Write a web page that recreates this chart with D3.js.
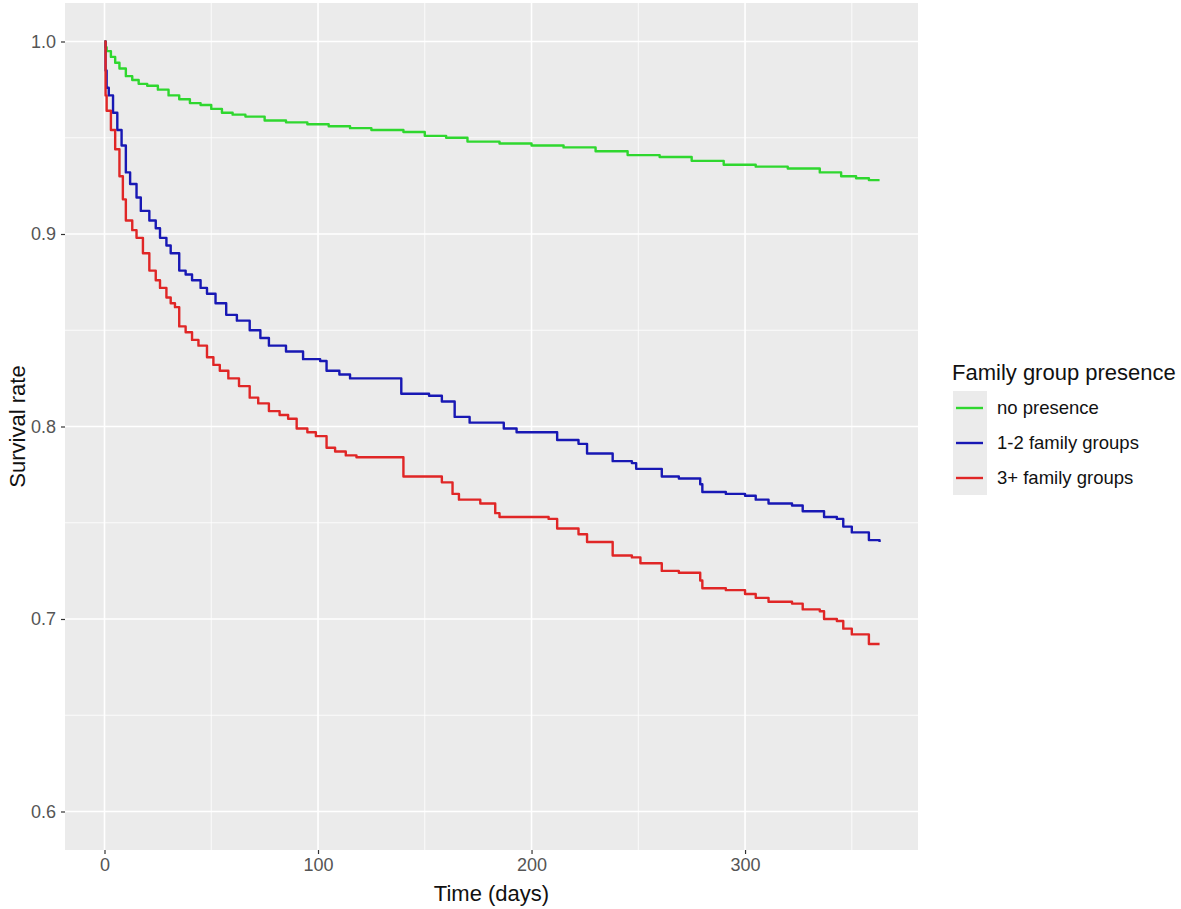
<!DOCTYPE html>
<html>
<head>
<meta charset="utf-8">
<script src="https://cdn.jsdelivr.net/npm/d3@7"></script>
<style>
    body { margin: 0; background: #fff; }
    svg { font-family: "Liberation Sans", Arial, sans-serif; }
</style>
</head>
<body>
<svg id="chart" width="1181" height="909"></svg>
<script>
// survival curves (time in days, survival rate)
const groups = ["no presence", "1-2 family groups", "3+ family groups"];
const groupColors = ["#2fd72f", "#1818b4", "#e02626"];

const timeNone = [0, 0.5, 1, 3, 5, 7, 10, 13, 16, 20, 25, 30, 35, 40, 45, 50, 55, 60, 66, 75,
    85, 95, 105, 115, 125, 140, 150, 160, 170, 185, 200, 215, 230, 245, 260, 275, 290, 305, 320, 335,
    345, 352, 358, 363];
const survNone = [1.0, 0.997, 0.995, 0.992, 0.989, 0.986, 0.982, 0.980, 0.978, 0.977, 0.975, 0.972, 0.970, 0.968, 0.967, 0.965, 0.963, 0.962, 0.961, 0.959,
    0.958, 0.957, 0.956, 0.955, 0.954, 0.953, 0.951, 0.950, 0.948, 0.947, 0.946, 0.945, 0.943, 0.941, 0.940, 0.938, 0.936, 0.935, 0.934, 0.932,
    0.930, 0.929, 0.928, 0.928];

const timeFew = [0, 0.5, 1, 2, 4, 6, 8, 10, 12, 15, 17, 21, 24, 26, 29, 31, 35, 38, 41, 45,
    48, 52, 57, 62, 68, 73, 77, 85, 93, 101, 104, 110, 115, 133, 139, 152, 158, 164, 171, 184,
    187, 193, 208, 212, 222, 226, 238, 247, 249, 257, 261, 269, 279, 280, 291, 300, 305, 311, 322, 327,
    335, 337, 343, 346, 350, 357, 358, 363];
const survFew = [1.0, 0.985, 0.976, 0.972, 0.963, 0.954, 0.946, 0.932, 0.926, 0.919, 0.912, 0.907, 0.903, 0.898, 0.894, 0.890, 0.881, 0.879, 0.876, 0.872,
    0.869, 0.864, 0.858, 0.855, 0.850, 0.846, 0.842, 0.839, 0.835, 0.834, 0.829, 0.827, 0.825, 0.825, 0.817, 0.816, 0.813, 0.805, 0.802, 0.802,
    0.799, 0.797, 0.797, 0.793, 0.791, 0.786, 0.782, 0.781, 0.778, 0.778, 0.774, 0.773, 0.770, 0.766, 0.765, 0.764, 0.762, 0.760, 0.759, 0.756,
    0.756, 0.753, 0.752, 0.748, 0.745, 0.745, 0.741, 0.740];

const timeMany = [0, 0.5, 1, 3, 5, 7, 8.6, 10, 13, 15, 18, 21, 24, 26, 29, 31, 33, 35, 38, 41,
    44, 48, 51, 54, 58, 63, 68, 72, 77, 82, 86, 90, 95, 99, 104, 108, 113, 118, 134, 140,
    152, 158, 163, 166, 176, 183, 185, 208, 212, 222, 226, 238, 247, 251, 257, 261, 269, 279, 280, 291,
    300, 305, 311, 322, 327, 335, 337, 343, 346, 350, 357, 358, 363];
const survMany = [1.0, 0.972, 0.964, 0.954, 0.944, 0.930, 0.918, 0.907, 0.902, 0.898, 0.890, 0.881, 0.876, 0.872, 0.867, 0.864, 0.862, 0.852, 0.849, 0.845,
    0.842, 0.836, 0.832, 0.829, 0.825, 0.821, 0.815, 0.812, 0.808, 0.806, 0.804, 0.799, 0.797, 0.795, 0.789, 0.787, 0.785, 0.784, 0.784, 0.774,
    0.774, 0.771, 0.765, 0.762, 0.760, 0.755, 0.753, 0.752, 0.747, 0.744, 0.740, 0.733, 0.732, 0.729, 0.729, 0.725, 0.724, 0.720, 0.716, 0.715,
    0.713, 0.711, 0.709, 0.708, 0.705, 0.704, 0.700, 0.699, 0.695, 0.692, 0.692, 0.687, 0.687];

const xTicks = [0, 100, 200, 300];
const xMinor = [50, 150, 250, 350];
const yTicks = [0.6, 0.7, 0.8, 0.9, 1.0];
const yMinor = [0.65, 0.75, 0.85, 0.95];

const series = [
    {name: groups[0], time: timeNone, surv: survNone, color: groupColors[0]},
    {name: groups[1], time: timeFew, surv: survFew, color: groupColors[1]},
    {name: groups[2], time: timeMany, surv: survMany, color: groupColors[2]},
];

const svg = d3.select("#chart");
const panel = {left: 65, right: 918, top: 3, bottom: 850}; // grey plotting area

const x = d3.scaleLinear().domain([-18.5, 381]).range([panel.left, panel.right]);
const y = d3.scaleLinear().domain([0.58, 1.02]).range([panel.bottom, panel.top]);

svg.append("rect")
    .attr("x", panel.left).attr("y", panel.top)
    .attr("width", panel.right - panel.left)
    .attr("height", panel.bottom - panel.top)
    .attr("fill", "#ebebeb");

// grid: minor first, thinner
const grid = svg.append("g").attr("stroke", "#fff").attr("fill", "none");
grid.selectAll(".vminor").data(xMinor).join("line")
    .attr("class", "vminor")
    .attr("x1", d => x(d)).attr("x2", d => x(d))
    .attr("y1", panel.top).attr("y2", panel.bottom)
    .attr("stroke-width", 0.8);
grid.selectAll(".hminor").data(yMinor).join("line")
    .attr("class", "hminor")
    .attr("x1", panel.left).attr("x2", panel.right)
    .attr("y1", d => y(d)).attr("y2", d => y(d))
    .attr("stroke-width", 0.8);
grid.selectAll(".vmajor").data(xTicks).join("line")
    .attr("class", "vmajor")
    .attr("x1", d => x(d)).attr("x2", d => x(d))
    .attr("y1", panel.top).attr("y2", panel.bottom)
    .attr("stroke-width", 1.6);
grid.selectAll(".hmajor").data(yTicks).join("line")
    .attr("class", "hmajor")
    .attr("x1", panel.left).attr("x2", panel.right)
    .attr("y1", d => y(d)).attr("y2", d => y(d))
    .attr("stroke-width", 1.6);

// km step lines
const line = d3.line()
    .x(d => x(d[0]))
    .y(d => y(d[1]))
    .curve(d3.curveStepAfter);

svg.append("g").selectAll("path")
    .data(series)
    .join("path")
    .attr("d", s => line(s.time.map((t, i) => [t, s.surv[i]])))
    .attr("fill", "none")
    .attr("stroke", s => s.color)
    .attr("stroke-width", 2.4)
    .attr("stroke-linejoin", "round");

// axes
const xAxis = svg.append("g")
    .attr("transform", `translate(0,${panel.bottom})`)
    .call(d3.axisBottom(x).tickValues(xTicks).tickSize(4).tickPadding(4));
const yAxis = svg.append("g")
    .attr("transform", `translate(${panel.left},0)`)
    .call(d3.axisLeft(y).tickValues(yTicks).tickFormat(d3.format(".1f")).tickSize(4).tickPadding(5));

[xAxis, yAxis].forEach(a => {
    a.attr("font-size", 18).attr("font-family", "'Liberation Sans', Arial, sans-serif");
    a.select(".domain").remove();
    a.selectAll(".tick line").attr("stroke", "#333").attr("stroke-width", 1.2);
    a.selectAll(".tick text").attr("fill", "#555");
});

svg.append("text")
    .attr("x", (panel.left + panel.right) / 2)
    .attr("y", 901)
    .attr("text-anchor", "middle")
    .attr("fill", "#111")
    .attr("font-size", 22)
    .text("Time (days)");

svg.append("text")
    .attr("transform", `translate(25,${(panel.top + panel.bottom) / 2}) rotate(-90)`)
    .attr("text-anchor", "middle")
    .attr("fill", "#111")
    .attr("font-size", 22)
    .text("Survival rate");

// legend
const legend = svg.append("g").attr("transform", "translate(952,0)");
legend.append("text")
    .attr("x", 0).attr("y", 380)
    .attr("fill", "#111")
    .attr("font-size", 22)
    .text("Family group presence");

legend.append("rect")
    .attr("x", 1).attr("y", 391)
    .attr("width", 34).attr("height", 104)
    .attr("fill", "#ebebeb");

const items = legend.selectAll(".item")
    .data(series)
    .join("g")
    .attr("class", "item")
    .attr("transform", (d, i) => `translate(0,${408 + i * 35})`);

items.append("line")
    .attr("x1", 4).attr("x2", 31)
    .attr("stroke", d => d.color)
    .attr("stroke-width", 2.4);

items.append("text")
    .attr("x", 45).attr("y", 0)
    .attr("dy", "0.35em")
    .attr("fill", "#111")
    .attr("font-size", 18.5)
    .text(d => d.name);
</script>
</body>
</html>
